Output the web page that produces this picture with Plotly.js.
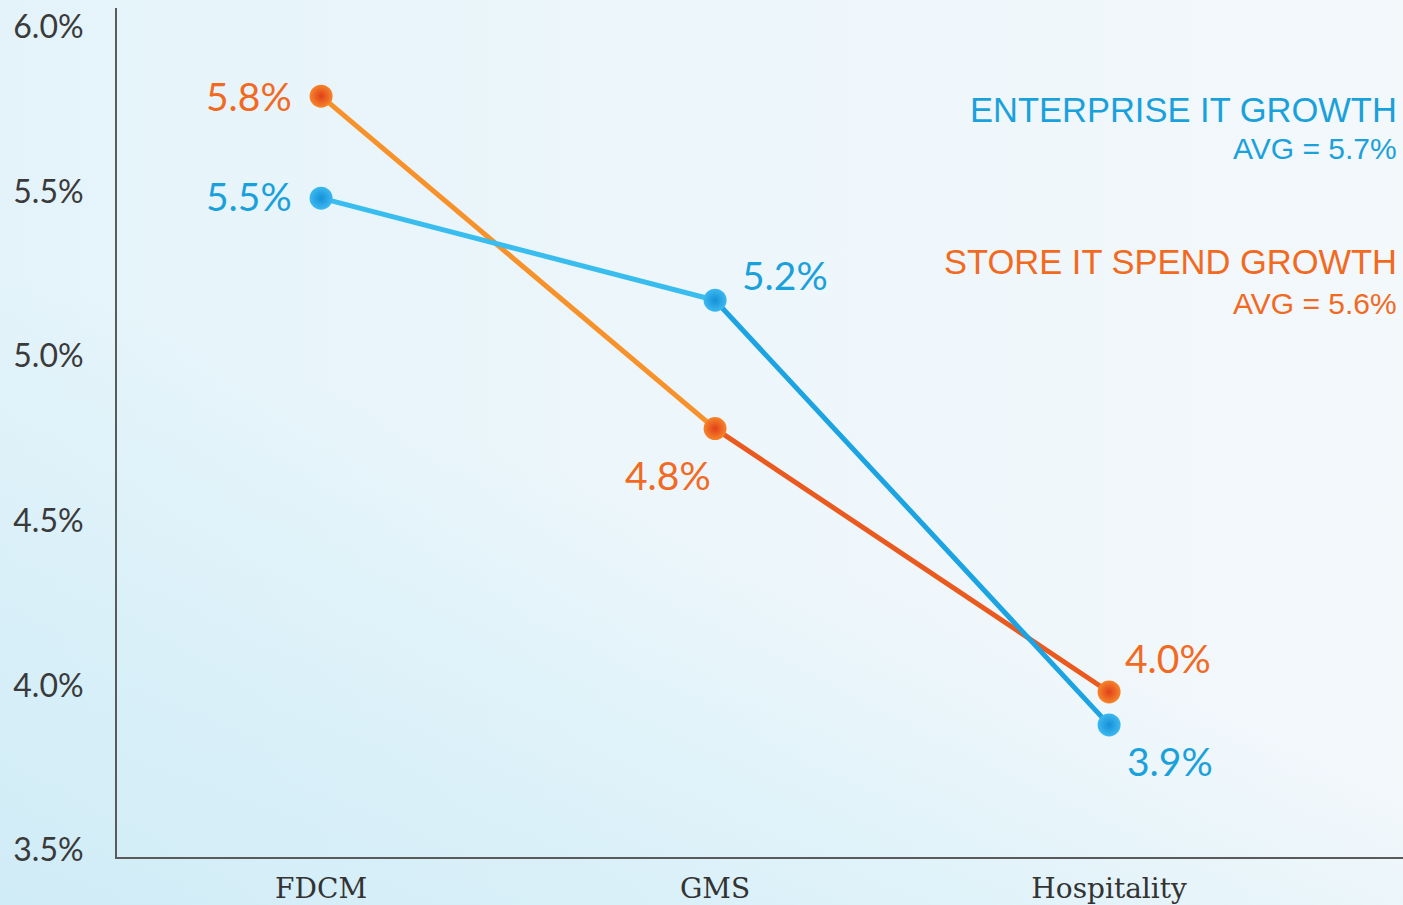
<!DOCTYPE html>
<html>
<head>
<meta charset="utf-8">
<script src="https://cdn.plot.ly/plotly-3.0.1.min.js"></script>
<style>
html,body{margin:0;padding:0;}
#chart{width:1403px;height:905px;
background:
 linear-gradient(200deg, rgba(255,255,255,0) 55%, rgba(205,236,247,0.55) 80%, rgba(200,233,245,0.7) 100%),
 linear-gradient(to right, #e4f3fa 0%, #ecf6fb 45%, #f3f8fb 100%);
}
</style>
</head>
<body>
<div id="chart"></div>
<script>
const categories = ["FDCM", "GMS", "Hospitality"];
const enterpriseGrowth = [5.48, 5.17, 3.88];
const storeSpendGrowth = [5.79, 4.78, 3.98];
const yTickValues = [3.5, 4.0, 4.5, 5.0, 5.5, 6.0];
const yTickLabels = ["3.5%", "4.0%", "4.5%", "5.0%", "5.5%", "6.0%"];
const enterpriseTitle = "ENTERPRISE IT GROWTH";
const enterpriseAvg = "AVG = 5.7%";
const storeTitle = "STORE IT SPEND GROWTH";
const storeAvg = "AVG = 5.6%";

const BLUE = "#1aa1dc";
const ORANGE = "#f26a22";
const blueSegColors = ["#38bdee", "#1ba3e2"];
const orangeSegColors = ["#f7922a", "#ea5a1f"];

const traces = [];
function addSeries(vals, segColors) {
  for (let i = 0; i < vals.length - 1; i++) {
    traces.push({
      type: "scatter", mode: "lines",
      x: categories.slice(i, i + 2), y: vals.slice(i, i + 2),
      line: {color: segColors[i], width: 5},
      hoverinfo: "skip", showlegend: false
    });
  }
}
addSeries(storeSpendGrowth, orangeSegColors);
addSeries(enterpriseGrowth, blueSegColors);
traces.push({
  type: "scatter", mode: "markers", x: categories, y: storeSpendGrowth,
  marker: {size: 23, color: "#f7852a", gradient: {type: "radial", color: "#e0401b"}, line: {width: 0}},
  showlegend: false
});
traces.push({
  type: "scatter", mode: "markers", x: categories, y: enterpriseGrowth,
  marker: {size: 23, color: "#3cb9f0", gradient: {type: "radial", color: "#1590d8"}, line: {width: 0}},
  showlegend: false
});

// data label placement (style only)
const blueLabelPos = [
  {xanchor: "right", xshift: -27, yshift: 2},
  {xanchor: "left", xshift: 25, yshift: 25},
  {xanchor: "left", xshift: 16, yshift: -36}
];
const orangeLabelPos = [
  {xanchor: "right", xshift: -27, yshift: 0},
  {xanchor: "right", xshift: -2, yshift: -46},
  {xanchor: "left", xshift: 14, yshift: 34}
];
const labelFont = {family: "Lato, 'Open Sans', sans-serif", size: 39};
const annotations = [];
function fmt(v) { return v.toFixed(1) + "%"; }
enterpriseGrowth.forEach((v, i) => annotations.push(Object.assign({
  x: categories[i], y: v, xref: "x", yref: "y", text: fmt(v), showarrow: false,
  yanchor: "middle", font: Object.assign({color: BLUE}, labelFont)
}, blueLabelPos[i])));
storeSpendGrowth.forEach((v, i) => annotations.push(Object.assign({
  x: categories[i], y: v, xref: "x", yref: "y", text: fmt(v), showarrow: false,
  yanchor: "middle", font: Object.assign({color: ORANGE}, labelFont)
}, orangeLabelPos[i])));

const legFont = "'Liberation Sans', Arial, sans-serif";
annotations.push(
  {xref: "paper", yref: "paper", x: 1, y: 0.88, xanchor: "right", yanchor: "middle", xshift: -4,
   text: enterpriseTitle, showarrow: false, font: {family: legFont, size: 34.5, color: BLUE}},
  {xref: "paper", yref: "paper", x: 1, y: 0.835, xanchor: "right", yanchor: "middle", xshift: -4,
   text: enterpriseAvg, showarrow: false, font: {family: legFont, size: 30, color: BLUE}},
  {xref: "paper", yref: "paper", x: 1, y: 0.7008, xanchor: "right", yanchor: "middle", xshift: -4,
   text: storeTitle, showarrow: false, font: {family: legFont, size: 34.5, color: ORANGE}},
  {xref: "paper", yref: "paper", x: 1, y: 0.6525, xanchor: "right", yanchor: "middle", xshift: -4,
   text: storeAvg, showarrow: false, font: {family: legFont, size: 30, color: ORANGE}}
);

const layout = {
  width: 1403, height: 905,
  margin: {l: 117, r: 0, t: 8, b: 48, pad: 0},
  paper_bgcolor: "rgba(0,0,0,0)", plot_bgcolor: "rgba(0,0,0,0)",
  showlegend: false,
  xaxis: {
    type: "category", categoryorder: "array", categoryarray: categories,
    range: [-0.518, 2.746], showgrid: false, zeroline: false,
    showline: true, linecolor: "#5a5a5a", linewidth: 2,
    ticks: "", ticklabelstandoff: 5,
    tickfont: {family: "'DejaVu Serif', 'Liberation Serif', serif", size: 28, color: "#333333"}
  },
  yaxis: {
    range: [3.4787, 6.0577], showgrid: false, zeroline: false,
    showline: true, linecolor: "#5a5a5a", linewidth: 2,
    tickmode: "array", tickvals: yTickValues, ticktext: yTickLabels,
    ticks: "", ticklabelstandoff: 25,
    tickfont: {family: "Lato, 'Open Sans', sans-serif", size: 32, color: "#3a3a3a"}
  },
  annotations: annotations
};

Plotly.newPlot("chart", traces, layout, {displayModeBar: false, staticPlot: true});
</script>
</body>
</html>
